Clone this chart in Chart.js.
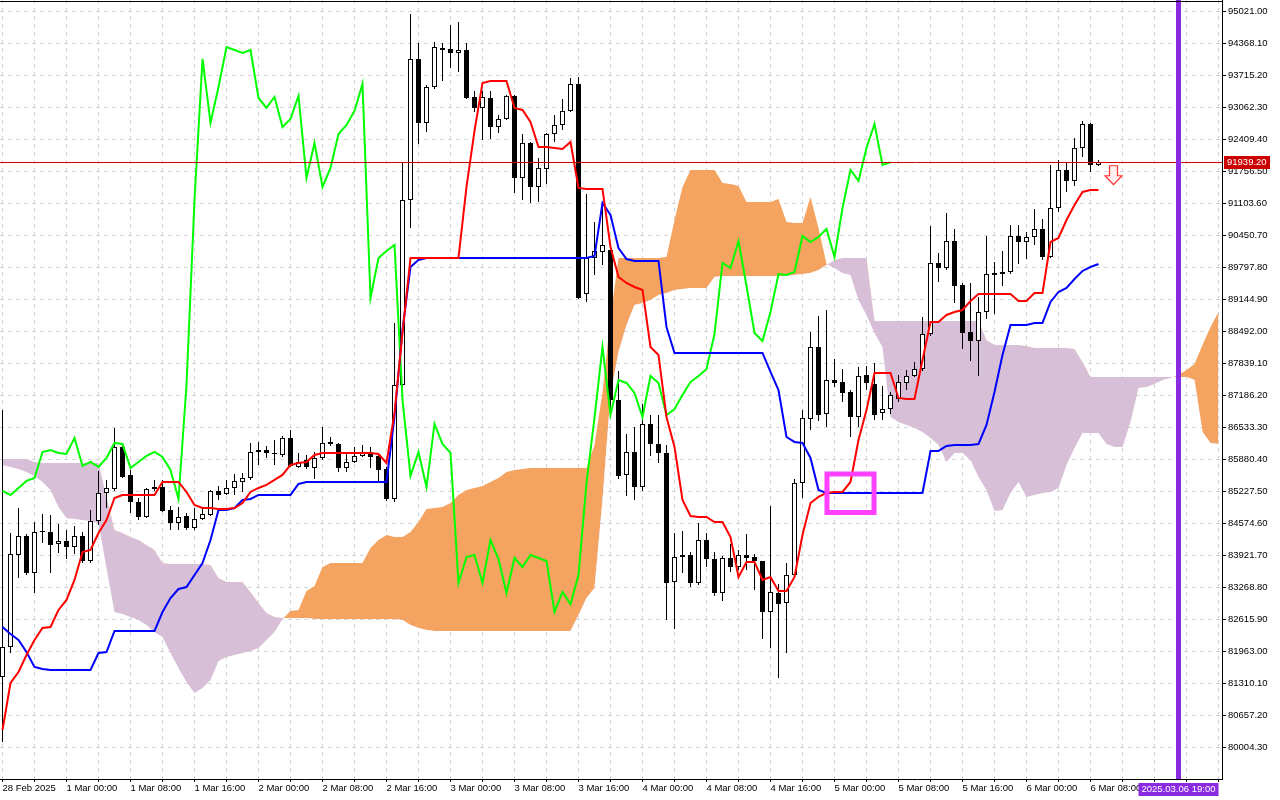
<!DOCTYPE html>
<html>
<head>
<meta charset="utf-8">
<title>BTCUSD H1 Ichimoku</title>
<style>
    html, body { margin: 0; padding: 0; background: #fff; }
    #chart { display: block; }
</style>
</head>
<body>
<canvas id="chart" width="1280" height="800"></canvas>
<script src="https://cdn.jsdelivr.net/npm/chart.js@4.4.1/dist/chart.umd.min.js"></script>
<script>
// hourly bars, bar 0 = 28 Feb 16:00, bar 137 = 6 Mar 09:00
const opens = [81439,82051,83928,84316,83561,84397,84397,84152,84214,84091,84316,83806,84622,85194,85275,86132,85561,85009,84703,85275,
85316,84846,84581,84724,84479,84662,84744,85235,85173,85296,85418,85500,86030,86071,86010,85969,86316,85724,85867,85703,
85908,86234,86193,85703,85826,85949,86030,85949,85683,85071,87397,91171,94048,92743,93477,94273,94252,94171,94232,93273,
93049,93253,92661,92824,93294,91621,92335,91437,91804,92518,92702,92988,93538,89253,89988,90110,90151,87091,85561,86030,
85316,86601,86193,86010,83377,83887,83928,83357,84234,83846,83153,83867,83683,83928,83887,83806,82765,83153,82949,83520,
85398,86703,88172,86805,87499,87458,87254,86744,87601,87417,86826,86907,87111,87438,87581,87723,88437,89886,89784,90335,
89437,88478,88295,88886,89682,89661,89702,90437,90314,90416,90579,90008,91008,91784,91560,92233,92722,91886];
const highs = [86887,84377,84887,84356,84601,84764,84744,84560,84438,84520,84397,84846,85643,85459,86520,86214,85663,85092,85296,85459,
85459,84928,84907,84785,84887,84907,85255,85337,85459,85581,85602,86214,86234,86153,86275,86357,86479,86010,85969,86030,
86540,86336,86214,86010,86132,86173,86132,86010,85724,88662,91947,94966,94375,93518,94395,94375,94742,94803,94375,93396,
93396,93396,92906,93314,93314,92518,92355,92029,92539,92906,93232,93661,93681,91294,90722,91110,90253,87683,86397,86540,
87009,86785,86785,86173,84377,84418,83989,84581,84377,83989,83908,84152,84030,84356,83948,83806,84928,83336,83765,85479,
86887,88478,88805,88927,87927,87723,87295,87764,87784,87846,87377,87254,87601,87703,87866,88784,90641,90090,90906,90579,
89478,89478,89192,90437,89906,90131,90661,90661,90518,90987,90783,91886,91988,91947,92437,92784,92743,91988];
const lows = [80113,81929,83459,83520,83153,84173,83561,83969,83846,83948,83765,83765,84540,84887,85235,85500,84785,84642,84683,85235,
84805,84438,84438,84438,84438,84642,84724,85050,85153,85153,85214,85459,85765,85908,85765,85928,85724,85703,85683,85479,
85867,86153,85622,85622,85806,85928,85703,85418,85030,85009,87356,90600,92314,92559,93436,93600,93865,93783,93232,92967,
92396,92416,92539,92804,91315,91171,91110,91130,91498,92355,92600,92967,89151,89090,89641,89845,86724,85479,85133,85050,
85235,85949,85806,82602,82418,83561,83275,83316,83683,83092,82990,83581,83622,83622,83214,82214,82031,81419,81929,83479,
85092,86479,86663,86540,87356,87050,86336,86540,87295,86683,86683,86805,87050,87295,87560,87683,88397,89498,89743,89070,
88131,87887,87581,88743,88845,89417,89661,89865,89967,90253,89947,89988,90926,91335,91458,92049,91743,91865];
const closes = [82051,83948,84316,83561,84397,84417,84132,84214,84091,84316,83806,84622,85194,85296,86132,85520,85009,84703,85275,85316,
84826,84581,84703,84479,84662,84764,85235,85153,85296,85439,85500,86030,86071,86010,85989,86316,85745,85826,85724,85908,
86214,86193,85703,85826,85949,86030,85928,85663,85071,87397,91171,94048,92743,93477,94293,94232,94171,94232,93253,93049,
93273,92661,92824,93294,91621,92335,91437,91825,92518,92702,92988,93538,89172,89988,90131,90253,87091,85541,86030,85316,
86601,86193,86010,83357,83887,83928,83357,84234,83846,83153,83867,83683,83928,83867,83806,82765,83173,82928,83520,85398,
86724,88172,86785,87499,87438,87234,86744,87581,87438,86785,86907,87193,87458,87581,87723,88437,89886,89784,90335,89417,
88458,88295,88886,89661,89641,89702,90437,90314,90416,90579,90008,91008,91784,91560,92233,92722,91886,91939.2];

const tenkan = [80358,81317,81541,81888,82194,82439,82459,82806,83010,83418,83989,84030,84377,84642,85092,85153,85153,85153,85153,85153,
85418,85418,85418,85214,84948,84887,84887,84866,84866,84887,84989,85214,85296,85357,85459,85561,85765,85806,85826,85969,
86010,86010,86010,86010,86010,86010,86010,85989,85806,86826,88458,89988,89988,89988,89988,89988,89988,89988,91437,92580,
93559,93600,93600,93600,93049,93008,92763,92253,92253,92233,92212,92355,91417,91396,91396,91396,90212,89600,89478,89396,
89335,88172,88009,86744,86132,85050,84724,84703,84703,84601,84601,84295,83479,83785,83785,83418,83479,83194,83194,83479,
84336,84989,85112,85194,85214,85214,85418,86275,86887,87642,87642,87642,87132,87111,87111,87907,88682,88682,88825,88886,
88927,89111,89253,89253,89253,89253,89253,89111,89111,89273,89273,90314,90396,90763,91069,91335,91376,91376];
const kijun = [82459,82316,82194,81949,81643,81602,81582,81582,81582,81582,81582,81582,81929,81949,82378,82378,82378,82378,82378,82378,
82765,83051,83234,83275,83520,83765,84234,84846,84846,84887,85050,85071,85153,85153,85153,85153,85153,85377,85418,85418,
85418,85418,85418,85418,85418,85418,85418,85418,85418,86744,88519,89804,89947,89988,89988,89988,89988,89988,89988,89988,
89988,89988,89988,89988,89988,89988,89988,89988,89988,89988,89988,89988,89988,89988,90029,91110,90865,90192,89967,89927,
89927,89927,89927,88580,88050,88050,88050,88050,88050,88050,88050,88050,88050,88050,88050,88050,87662,87295,86336,86234,
86214,85908,85255,85194,85194,85194,85194,85194,85194,85194,85194,85194,85194,85194,85194,85194,86051,86051,86153,86173,
86173,86173,86193,86581,87254,88009,88621,88621,88621,88662,88662,89090,89294,89376,89559,89723,89804,89865];

// cloud spans as drawn (already shifted 26 bars ahead), bar 0 .. 152
const senkouA = [85765,85724,85683,85622,85541,85418,85255,84907,84683,84662,84642,84622,84581,83663,82765,82724,82663,82602,82500,82357,
82255,81929,81623,81337,81113,81215,81378,81766,81847,81888,81929,81970,82031,82194,82357,82622,82786,82806,83194,83296,
83683,83765,83765,83765,83765,83765,84071,84234,84336,84295,84295,84397,84601,84866,84887,84907,84989,85153,85255,85296,
85337,85418,85500,85622,85663,85683,85703,85703,85703,85703,85703,85703,85703,85703,86173,87254,88764,89988,89988,89988,
89988,89988,89988,90008,90763,91437,91784,91784,91784,91784,91519,91498,91458,91130,91130,91130,91130,91192,90722,90702,
90702,91233,90600,89865,89784,89682,89641,89131,88825,88458,88172,86744,86642,86581,86520,86438,86316,86173,85826,86010,
86010,85867,85520,85255,84826,84846,85194,85418,85112,85153,85194,85214,85296,85765,86112,86418,86418,86418,86193,86132,
86132,86642,87336,87356,87417,87499,87540,87601,87703,87825,88213,88580,88886];
const senkouB = [85887,85887,85887,85887,85826,85806,85806,85806,85806,85806,85806,85806,85806,85112,84438,84377,84295,84234,84132,84030,
83765,83744,83744,83744,83744,83744,83724,83459,83377,83377,83377,83173,82949,82745,82663,82643,82643,82643,82643,82622,
82622,82622,82622,82622,82622,82622,82622,82622,82622,82622,82602,82500,82439,82398,82378,82378,82378,82378,82378,82378,
82378,82378,82378,82378,82378,82378,82378,82378,82378,82378,82378,82378,82704,83051,83255,85050,87193,88070,88621,89029,
89070,89131,89233,89273,89335,89355,89376,89376,89376,89600,89621,89621,89621,89621,89621,89621,89621,89621,89621,89641,
89661,89682,89743,89845,89947,89988,89988,89988,89988,88703,88703,88703,88703,88703,88703,88703,88703,88703,88703,88703,
88703,88703,88703,88315,88213,88213,88213,88213,88193,88152,88152,88152,88152,88152,88131,87866,87560,87560,87560,87560,
87560,87560,87560,87560,87560,87560,87560,87560,87560,87499,86438,86214,86193];

const yTickValues = [95021.0,94368.1,93715.2,93062.3,92409.4,91756.5,91103.6,90450.7,89797.8,89144.9,88492.0,87839.1,
87186.2,86533.3,85880.4,85227.5,84574.6,83921.7,83268.8,82615.9,81963.0,81310.1,80657.2,80004.3];
const xTickLabels = ['28 Feb 2025','1 Mar 00:00','1 Mar 08:00','1 Mar 16:00','2 Mar 00:00','2 Mar 08:00','2 Mar 16:00',
'3 Mar 00:00','3 Mar 08:00','3 Mar 16:00','4 Mar 00:00','4 Mar 08:00','4 Mar 16:00','5 Mar 00:00','5 Mar 08:00',
'5 Mar 16:00','6 Mar 00:00','6 Mar 08:00'];

const chikouShift = 26;
const lastPrice = 91939.20;
const markerBar = 147;               // vertical line, 6 Mar 19:00
const markerLabel = '2025.03.06 19:00';
const boxBars = [103.06, 108.94];    // rectangle object
const boxPrices = [85581, 84795];
const arrowBar = 139;                // sell arrow
const arrowPrice = 91870;

const FONT = 'Liberation Sans, Arial, sans-serif';

const pts = arr => arr.map((v, i) => ({x: i, y: v}));

const overlay = {
    id: 'overlay',
    afterDatasetsDraw(chart) {
        const {ctx, chartArea: a, scales: {x, y}} = chart;
        ctx.save();
        // price line
        const py = Math.round(y.getPixelForValue(lastPrice)) + 0.5;
        ctx.strokeStyle = '#d00000';
        ctx.lineWidth = 1;
        ctx.beginPath(); ctx.moveTo(a.left, py); ctx.lineTo(a.right, py); ctx.stroke();

        // rectangle
        const bx1 = x.getPixelForValue(boxBars[0]), bx2 = x.getPixelForValue(boxBars[1]);
        const by1 = y.getPixelForValue(boxPrices[0]), by2 = y.getPixelForValue(boxPrices[1]);
        ctx.strokeStyle = '#ff40ff';
        ctx.lineWidth = 5;
        ctx.strokeRect(bx1, by1, bx2 - bx1, by2 - by1);

        // arrow
        const ax = x.getPixelForValue(arrowBar) - 1, ay = y.getPixelForValue(arrowPrice);
        ctx.beginPath();
        ctx.moveTo(ax - 4, ay); ctx.lineTo(ax + 4, ay); ctx.lineTo(ax + 4, ay + 10);
        ctx.lineTo(ax + 8.5, ay + 10); ctx.lineTo(ax, ay + 19); ctx.lineTo(ax - 8.5, ay + 10);
        ctx.lineTo(ax - 4, ay + 10); ctx.closePath();
        ctx.fillStyle = '#fff0f0'; ctx.fill();
        ctx.strokeStyle = '#ff3030'; ctx.lineWidth = 1.2; ctx.stroke();

        // vertical marker
        const mx = x.getPixelForValue(markerBar);
        ctx.strokeStyle = '#8a2be2';
        ctx.lineWidth = 5;
        ctx.beginPath(); ctx.moveTo(mx, a.top); ctx.lineTo(mx, a.bottom); ctx.stroke();
        ctx.restore();
    },
    afterDraw(chart) {
        const {ctx, chartArea: a, scales: {x, y}} = chart;
        ctx.save();
        ctx.strokeStyle = '#000';
        ctx.lineWidth = 1;
        ctx.beginPath(); ctx.moveTo(a.left, a.top + 1.5); ctx.lineTo(a.right, a.top + 1.5); ctx.stroke();

        ctx.font = '9.5px ' + FONT;
        ctx.textBaseline = 'middle';
        // price tag
        const py = Math.round(y.getPixelForValue(lastPrice));
        ctx.fillStyle = '#cc0000';
        ctx.fillRect(a.right + 2, py - 6, 46, 13);
        ctx.fillStyle = '#fff';
        ctx.textAlign = 'left';
        ctx.fillText(lastPrice.toFixed(2), a.right + 5, py + 0.5);

        // time tag
        const mx = x.getPixelForValue(markerBar);
        ctx.fillStyle = '#8a2be2';
        ctx.fillRect(mx - 40, a.bottom + 4, 80, 13);
        ctx.fillStyle = '#fff';
        ctx.textAlign = 'center';
        ctx.fillText(markerLabel, mx, a.bottom + 10.5);
        ctx.restore();
    }
};

new Chart('chart', {
    type: 'bar',
    data: {
        datasets: [
            {
                type: 'line', label: 'Senkou A', data: pts(senkouA),
                borderWidth: 0, pointRadius: 0, tension: 0, order: 10,
                fill: {target: 1, above: '#f4a460', below: '#d8bfd8'}
            },
            {
                type: 'line', label: 'Senkou B', data: pts(senkouB),
                borderWidth: 0, pointRadius: 0, tension: 0, order: 10, fill: false
            },
            {
                label: 'wicks', data: lows.map((l, i) => ({x: i, y: [l, highs[i]]})),
                backgroundColor: '#000', borderWidth: 0, barThickness: 1,
                grouped: false, inflateAmount: 0, order: 6
            },
            {
                label: 'bodies', data: opens.map((o, i) => ({x: i, y: [o, closes[i]]})),
                backgroundColor: opens.map((o, i) => closes[i] >= o ? '#fff' : '#000'),
                borderColor: '#000', borderWidth: 1, borderSkipped: false,
                barThickness: 5, minBarLength: 1, grouped: false, inflateAmount: 0, order: 5
            },
            {
                type: 'line', label: 'Chikou', data: closes.slice(chikouShift).map((c, i) => ({x: i, y: c})),
                borderColor: '#00ff00', borderWidth: 2, pointRadius: 0, tension: 0, fill: false, order: 3
            },
            {
                type: 'line', label: 'Kijun', data: pts(kijun),
                borderColor: '#0000ff', borderWidth: 2, pointRadius: 0, tension: 0, fill: false, order: 2
            },
            {
                type: 'line', label: 'Tenkan', data: pts(tenkan),
                borderColor: '#ff0000', borderWidth: 2, pointRadius: 0, tension: 0, fill: false, order: 1
            }
        ]
    },
    options: {
        responsive: false,
        animation: false,
        devicePixelRatio: 1,
        layout: { padding: 0 },
        plugins: { legend: { display: false }, tooltip: { enabled: false } },
        scales: {
            x: {
                type: 'linear',
                min: -0.3125, max: 152.4375,
                offset: false,
                afterBuildTicks: s => {
                    s.ticks = [];
                    for (let k = 0; k <= 152; k += 4) s.ticks.push({value: k});
                },
                afterFit: s => { s.height = 21; s.paddingLeft = 0; s.paddingRight = 0; },
                ticks: {
                    autoSkip: false, maxRotation: 0, align: 'start', padding: 1,
                    color: '#000', font: { family: FONT, size: 9.5 },
                    callback: v => (v % 8 === 0 && xTickLabels[v / 8]) ? xTickLabels[v / 8] : ''
                },
                grid: {
                    offset: false, color: '#d6d6d6', drawTicks: true,
                    tickLength: 3, tickColor: '#000', tickBorderDash: []
                },
                border: { display: true, color: '#000', width: 1, dash: [4, 4] }
            },
            y: {
                type: 'linear',
                position: 'right',
                min: 79357.6, max: 95251.6,
                afterBuildTicks: s => { s.ticks = yTickValues.map(v => ({value: v})); },
                afterFit: s => { s.width = 58; s.paddingTop = 0; s.paddingBottom = 0; },
                ticks: {
                    padding: 2, color: '#000', font: { family: FONT, size: 9.5 },
                    callback: v => Number(v).toFixed(2)
                },
                grid: {
                    color: '#d6d6d6', drawTicks: true,
                    tickLength: 4, tickColor: '#000', tickBorderDash: []
                },
                border: { display: true, color: '#000', width: 1, dash: [4, 4] }
            }
        }
    },
    plugins: [overlay]
});
</script>
</body>
</html>
